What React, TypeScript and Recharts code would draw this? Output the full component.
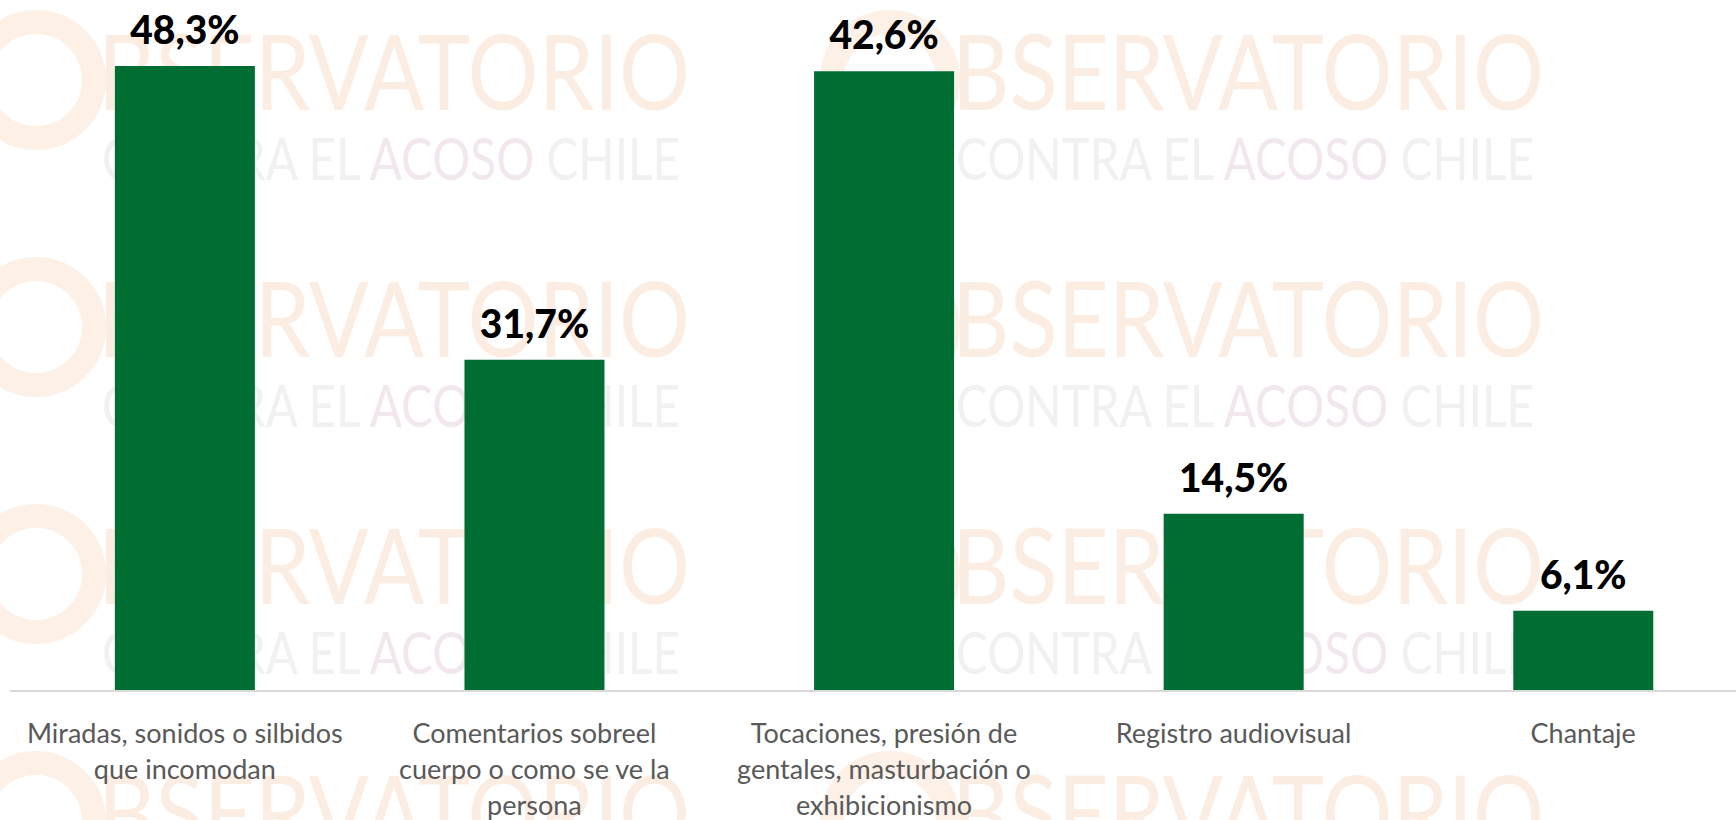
import { Bar, BarChart, LabelList, XAxis, YAxis } from "recharts";

// categories (line breaks as printed under each bar)
const categories = [
  "Miradas, sonidos o silbidos que incomodan",
  "Comentarios sobreel cuerpo o como se ve la persona",
  "Tocaciones, presión de gentales, masturbación o exhibicionismo",
  "Registro audiovisual",
  "Chantaje",
];
const categoryLines = [
  ["Miradas, sonidos o silbidos", "que incomodan"],
  ["Comentarios sobreel", "cuerpo o como se ve la", "persona"],
  ["Tocaciones, presión de", "gentales, masturbación o", "exhibicionismo"],
  ["Registro audiovisual"],
  ["Chantaje"],
];

// printed data labels
const labelTexts = ["48,3%", "31,7%", "42,6%", "14,5%", "6,1%"];
// bar heights as drawn in the picture (they do not follow the printed labels exactly)
const barValues = [48.3, 25.6, 47.9, 13.7, 6.2];

const data = categories.map((name, i) => ({ name, value: barValues[i] }));

const GREEN = "#006d32";
const WM_ROWS = [35, 282, 529, 776];
const WM_COLS = [98, 952];

function Watermark() {
  return (
    <svg width={1736} height={820} style={{ position: "absolute", left: 0, top: 0 }}>
      {WM_ROWS.map((top) =>
        WM_COLS.map((left) => (
          <g key={`${top}-${left}`}>
            <circle cx={left - 62} cy={top + 45} r={58} fill="none" stroke="#fcf0e7" strokeWidth={24} />
            <text
              x={left}
              y={top + 75}
              fontFamily="Lato, sans-serif"
              fontWeight={400}
              fontSize={104}
              fill="#fcede2"
              textLength={592}
              lengthAdjust="spacingAndGlyphs"
            >
              BSERVATORIO
            </text>
            <text
              x={left + 4}
              y={top + 145}
              fontFamily="Lato, sans-serif"
              fontWeight={400}
              fontSize={58}
              fill="#f1f1f1"
              textLength={578}
              lengthAdjust="spacingAndGlyphs"
            >
              CONTRA EL <tspan fill="#f3e7ef">ACOSO</tspan> CHILE
            </text>
          </g>
        ))
      )}
    </svg>
  );
}

function CategoryTick(props: any) {
  const { x, y, payload } = props;
  const lines = categoryLines[payload.index] ?? [payload.value];
  return (
    <text x={x} y={y + 50} textAnchor="middle" fontFamily="Lato, sans-serif" fontSize={27} fill="#595959">
      {lines.map((line, i) => (
        <tspan key={i} x={x} dy={i === 0 ? 0 : 36}>
          {line}
        </tspan>
      ))}
    </text>
  );
}

function ValueLabel(props: any) {
  const { x, y, width, index } = props;
  return (
    <text
      x={x + width / 2}
      y={y - 22}
      textAnchor="middle"
      fontFamily="Lato, sans-serif"
      fontWeight={900}
      fontSize={39}
      fill="#000"
    >
      {labelTexts[index]}
    </text>
  );
}

export default function App() {
  return (
    <div style={{ position: "fixed", left: 0, top: 0, width: 1736, height: 820, overflow: "hidden", background: "#fff" }}>
      <Watermark />
      <div style={{ position: "absolute", left: 0, top: 0 }}>
        <BarChart
          width={1768}
          height={820}
          data={data}
          margin={{ top: 44, right: 10, bottom: 0, left: 10 }}
          barCategoryGap="30%"
        >
          <XAxis
            dataKey="name"
            height={129}
            interval={0}
            tickLine={false}
            tickSize={0}
            axisLine={{ stroke: "#d9d9d9", strokeWidth: 2 }}
            tick={<CategoryTick />}
          />
          <YAxis hide domain={[0, 50]} />
          <Bar dataKey="value" fill={GREEN} isAnimationActive={false}>
            <LabelList dataKey="value" content={<ValueLabel />} />
          </Bar>
        </BarChart>
      </div>
    </div>
  );
}
